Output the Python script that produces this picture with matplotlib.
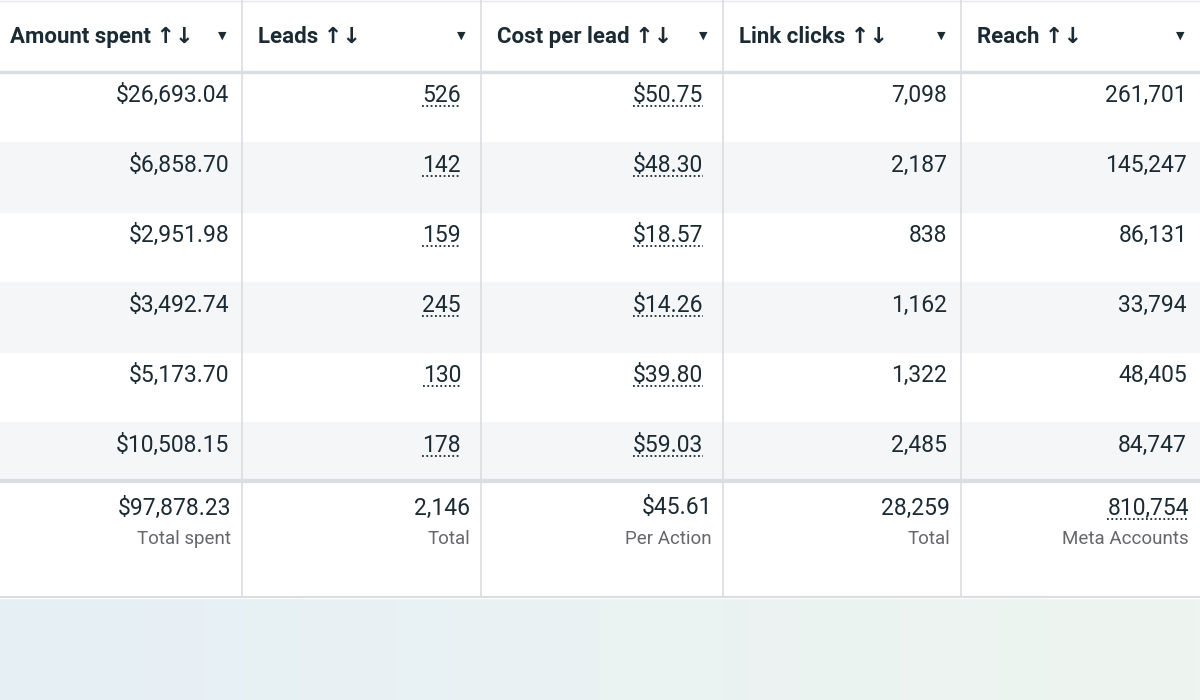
import matplotlib
matplotlib.use("Agg")
import matplotlib.pyplot as plt
from matplotlib.patches import Rectangle
import numpy as np

headers = ["Amount spent", "Leads", "Cost per lead", "Link clicks", "Reach"]
amount = ["$26,693.04", "$6,858.70", "$2,951.98", "$3,492.74", "$5,173.70", "$10,508.15"]
leads = ["526", "142", "159", "245", "130", "178"]
cpl = ["$50.75", "$48.30", "$18.57", "$14.26", "$39.80", "$59.03"]
clicks = ["7,098", "2,187", "838", "1,162", "1,322", "2,485"]
reach = ["261,701", "145,247", "86,131", "33,794", "48,405", "84,747"]
totals = ["$97,878.23", "2,146", "$45.61", "28,259", "810,754"]
total_labels = ["Total spent", "Total", "Per Action", "Total", "Meta Accounts"]

columns = [amount, leads, cpl, clicks, reach]
underlined = [False, True, True, False, False]
total_underlined = [False, False, False, False, True]

plt.rcParams['font.family'] = ['Roboto', 'DejaVu Sans']
fig = plt.figure(figsize=(12, 7), dpi=100)
ax = fig.add_axes([0, 0, 1, 1])
ax.set_xlim(0, 1200); ax.set_ylim(700, 0); ax.axis('off')

edges = [0, 242, 481, 723, 961, 1200]
txt = '#1c2b33'
grey = '#65676b'
grad = np.linspace(0, 1, 256).reshape(1, -1)
ax.imshow(grad, extent=(0, 1200, 700, 598), cmap=matplotlib.colors.LinearSegmentedColormap.from_list('g', ['#e6eff5', '#eef5f0']), aspect='auto', zorder=0)
ax.add_patch(Rectangle((0, 0), 1200, 598, color='white', zorder=0.5))
row_h = 70
for i in range(len(amount)):
    top = 72 + i * row_h
    if i % 2 == 1:
        ax.add_patch(Rectangle((0, top), 1200, min(row_h, 480 - top), color='#f4f6f8', zorder=1))
ax.plot([0, 1200], [72, 72], color='#dadde1', lw=2.5, zorder=3)
ax.plot([0, 1200], [481, 481], color='#dadde1', lw=3, zorder=3)
ax.plot([0, 1200], [597, 597], color='#dadde1', lw=1.5, zorder=3)
ax.plot([0, 1200], [1, 1], color='#e4e6eb', lw=1, zorder=3)
for x in edges[1:-1]:
    ax.plot([x, x], [0, 597], color='#dadde1', lw=1.2, zorder=3)

fig.canvas.draw()
rend = fig.canvas.get_renderer()
inv = ax.transData.inverted()

def underline(t, y):
    bb = t.get_window_extent(rend)
    x0 = inv.transform((bb.x0, bb.y0))[0]
    x1 = inv.transform((bb.x1, bb.y0))[0]
    ax.plot([x0, x1], [y, y], color=txt, lw=1.3, ls=(0, (1, 1.4)), zorder=4)

for c, h in enumerate(headers):
    l, r = edges[c], edges[c + 1]
    ax.text(l + 10 + (6 if c else 0), 37, h + " ↑↓", fontsize=16, fontweight='bold', color=txt, va='center', ha='left', zorder=4)
    ax.text(r - 20, 36, "▼", fontsize=8, color=txt, va='center', ha='center', family='DejaVu Sans', zorder=4)
    for i, v in enumerate(columns[c]):
        y = 95 + i * row_h
        xr = r - 13 if c in (0, 4) else (r - 20 if c in (1, 2) else r - 14)
        t = ax.text(xr, y, v, fontsize=16.5, color=txt, va='center', ha='right', zorder=4)
        if underlined[c]:
            underline(t, y + 11)
    xr = r - 11
    t = ax.text(xr, 508, totals[c], fontsize=16.5, color=txt, va='center', ha='right', zorder=4)
    ax.text(xr, 539, total_labels[c], fontsize=13.5, color=grey, va='center', ha='right', zorder=4)
    if total_underlined[c]:
        underline(t, 519)

fig.savefig("out.png", dpi=100)
